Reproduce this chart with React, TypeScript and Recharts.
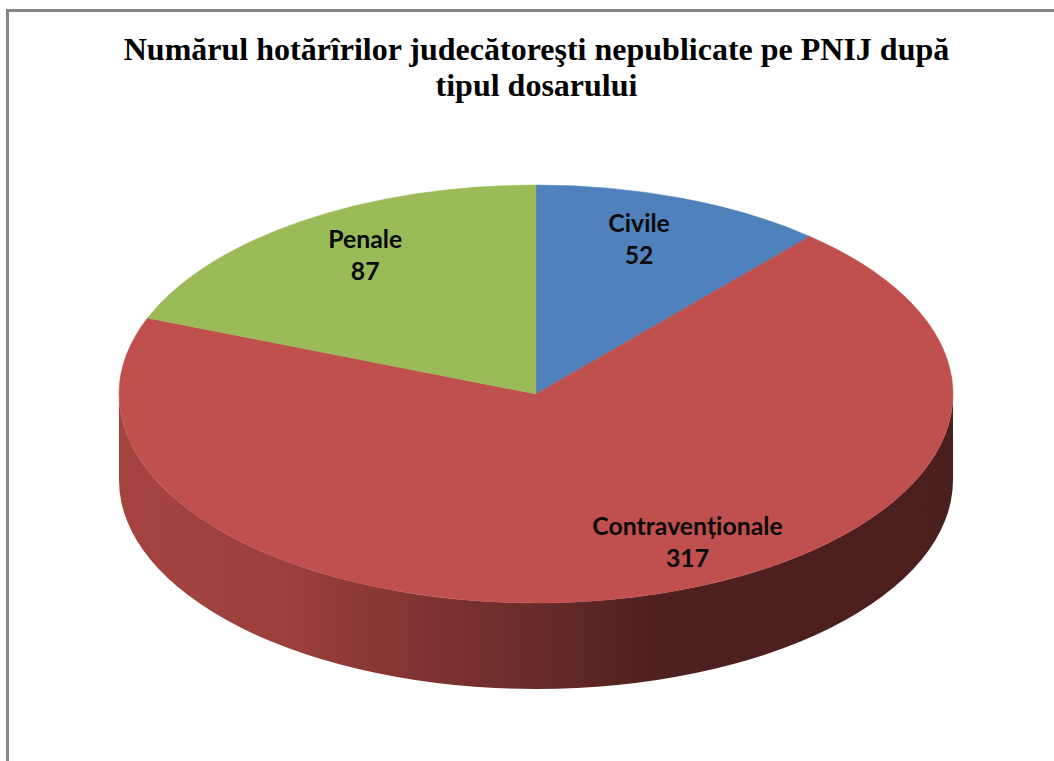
import React from "react";
import { PieChart, Pie, Cell } from "recharts";

const categories = ["Civile", "Contravenționale", "Penale"];
const values = [52, 317, 87];
const topColors = ["#4F81BD", "#C0504D", "#9BBB59"];
const titleLines = [
  "Numărul hotărîrilor judecătoreşti nepublicate pe PNIJ după",
  "tipul dosarului",
];

const pieData = categories.map((name, i) => ({ name, value: values[i] }));

const W = 1054;
const H = 761;
const CX = 536;
const CY = 394;
const R = 417;
const SQUASH = 209 / 417;
const DEPTH = 86;
const RAD = Math.PI / 180;

const TopSlice = (p: any) => {
  const { cx, cy, outerRadius: r, startAngle, endAngle, fill } = p;
  const ry = r * SQUASH;
  const x = (a: number) => cx + r * Math.cos(a * RAD);
  const y = (a: number) => cy - ry * Math.sin(a * RAD);
  const large = Math.abs(endAngle - startAngle) > 180 ? 1 : 0;
  const d = `M${cx},${cy} L${x(startAngle)},${y(startAngle)} A${r},${ry} 0 ${large} 1 ${x(endAngle)},${y(endAngle)} Z`;
  return <path d={d} fill={fill} stroke={fill} strokeWidth={0.5} />;
};

const WallSlice = (p: any) => {
  const { cx, cy, outerRadius: r, startAngle, endAngle } = p;
  const ry = r * SQUASH;
  const lo = Math.max(Math.min(startAngle, endAngle), -180);
  const hi = Math.min(Math.max(startAngle, endAngle), 0);
  if (hi <= lo) return <g />;
  const x = (a: number) => cx + r * Math.cos(a * RAD);
  const y = (a: number) => cy - ry * Math.sin(a * RAD);
  const d = `M${x(lo)},${y(lo)} A${r},${ry} 0 0 0 ${x(hi)},${y(hi)} L${x(hi)},${y(hi) + DEPTH} A${r},${ry} 0 0 1 ${x(lo)},${y(lo) + DEPTH} Z`;
  return <path d={d} fill="url(#wall)" />;
};

const labelPlacement = [
  { f: 0.77, shift: -7, dx: 28, dy: 2 },
  { f: 0.8, shift: -13, dx: 1, dy: 0 },
  { f: 0.77, shift: -3, dx: 24, dy: -10 },
];

const SliceLabel = (p: any) => {
  const { midAngle, index, name, value } = p;
  const place = labelPlacement[index];
  const a = midAngle - place.shift;
  const x = CX + R * place.f * Math.cos(a * RAD) + place.dx;
  const y = CY - R * SQUASH * place.f * Math.sin(a * RAD) + place.dy;
  return (
    <text
      x={x}
      y={y}
      textAnchor="middle"
      fontFamily="Lato, 'Open Sans', sans-serif"
      fontWeight={700}
      fontSize={24.8}
      fill="#0a0a0a"
    >
      <tspan x={x} dy={-8}>{name}</tspan>
      <tspan x={x} dy={32}>{value}</tspan>
    </text>
  );
};

export default function App() {
  return (
    <div style={{ position: "fixed", left: 0, top: 0, width: W, height: H, background: "#fff", overflow: "hidden" }}>
      <div
        style={{
          position: "absolute",
          left: 6,
          top: 9,
          width: W,
          height: H,
          borderTop: "3px solid #868686",
          borderLeft: "3px solid #868686",
        }}
      />
      <div style={{ position: "absolute", left: 0, top: 0 }}>
        <PieChart width={W} height={H} margin={{ top: 0, right: 0, bottom: 0, left: 0 }}>
          <defs>
            <linearGradient id="wall" gradientUnits="userSpaceOnUse" x1={119} y1={0} x2={953} y2={0}>
              <stop offset="0" stopColor="#A5443F" />
              <stop offset="0.2" stopColor="#9B403C" />
              <stop offset="0.33" stopColor="#843633" />
              <stop offset="0.5" stopColor="#692B29" />
              <stop offset="0.64" stopColor="#4E201F" />
              <stop offset="1" stopColor="#4B1F1E" />
            </linearGradient>
          </defs>
          <text textAnchor="middle" fontFamily="'Liberation Serif', serif" fontWeight={700} fontSize={32} fill="#000">
            {titleLines.map((t, i) => (
              <tspan key={i} x={536.5} y={60 + i * 36}>{t}</tspan>
            ))}
          </text>
          <Pie
            data={pieData}
            dataKey="value"
            nameKey="name"
            cx={CX}
            cy={CY}
            outerRadius={R}
            startAngle={90}
            endAngle={-270}
            isAnimationActive={false}
            shape={WallSlice}
            stroke="none"
            label={false}
            labelLine={false}
          />
          <Pie
            data={pieData}
            dataKey="value"
            nameKey="name"
            cx={CX}
            cy={CY}
            outerRadius={R}
            startAngle={90}
            endAngle={-270}
            isAnimationActive={false}
            shape={TopSlice}
            stroke="none"
            label={SliceLabel}
            labelLine={false}
          >
            {pieData.map((d, i) => (
              <Cell key={d.name} fill={topColors[i]} />
            ))}
          </Pie>
        </PieChart>
      </div>
    </div>
  );
}
